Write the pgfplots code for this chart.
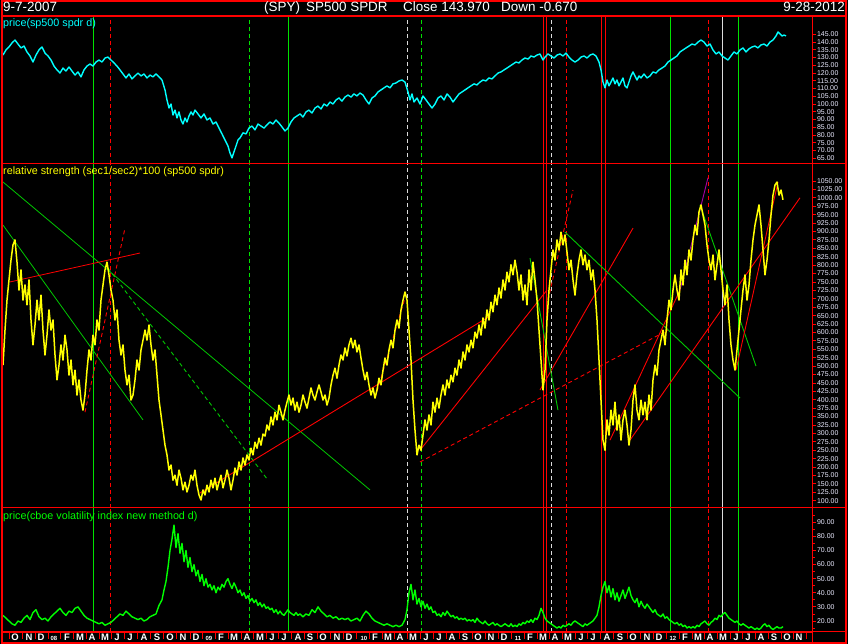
\documentclass[border=0pt]{standalone}
\usepackage{fontspec}
\setmainfont{Liberation Sans}
\usepackage{pgfplots}
\pgfplotsset{compat=1.18}
\definecolor{cy}{RGB}{0,255,255}
\definecolor{yl}{RGB}{255,255,0}
\definecolor{gr}{RGB}{0,255,0}
\definecolor{tg}{RGB}{0,200,0}
\definecolor{vgc}{RGB}{0,225,0}
\definecolor{rd}{RGB}{255,0,0}
\definecolor{lab}{RGB}{235,235,255}
\definecolor{wt}{RGB}{220,220,220}

\pgfplotsset{
  panel/.style={
    anchor=south west, scale only axis, width=810bp,
    xmin=2, xmax=812, clip=true,
    axis background/.style={fill=black},
    axis line style={rd, line width=1bp},
    xtick=\empty,
    ytick pos=right, yticklabel pos=right,
    tick align=outside, major tick length=4bp, minor tick length=2.5bp,
    tick style={rd, line width=0.8bp},
    yticklabel style={font=\fontsize{7}{8}\selectfont, text=lab, inner sep=0.6bp, xshift=0.3bp,
      /pgf/number format/.cd, fixed, fixed zerofill, precision=2, 1000 sep={}, assume math mode=true},
  },
  vg/.style={vgc, line width=0.9bp},
  vgd/.style={vgc, line width=0.9bp, dash pattern=on 4bp off 3bp},
  vr/.style={rd, line width=0.9bp},
  vrd/.style={rd, line width=0.9bp, dash pattern=on 4bp off 3bp},
  vwd/.style={wt, line width=0.8bp, dash pattern=on 4bp off 3bp},
  vw/.style={wt, line width=0.7bp},
}
\newcommand{\VL}[2]{%
  \addplot[vg]  coordinates {(93,#1) (93,#2)};
  \addplot[vrd] coordinates {(110,#1) (110,#2)};
  \addplot[vgd] coordinates {(249,#1) (249,#2)};
  \addplot[vg]  coordinates {(288,#1) (288,#2)};
  \addplot[vwd] coordinates {(407,#1) (407,#2)};
  \addplot[vgd] coordinates {(421,#1) (421,#2)};
  \addplot[vr]  coordinates {(543,#1) (543,#2)};
  \addplot[vr]  coordinates {(546,#1) (546,#2)};
  \addplot[vwd] coordinates {(551,#1) (551,#2)};
  \addplot[vrd] coordinates {(566,#1) (566,#2)};
  \addplot[vr]  coordinates {(601,#1) (601,#2)};
  \addplot[vr]  coordinates {(605,#1) (605,#2)};
  \addplot[vg]  coordinates {(670,#1) (670,#2)};
  \addplot[vrd] coordinates {(708,#1) (708,#2)};
  \addplot[vw]  coordinates {(722,#1) (722,#2)};
  \addplot[vg]  coordinates {(738,#1) (738,#2)};
}

\pgfplotstableread{
x v
3 131.6
6 134.9
9 136.8
12 139.4
15 141.3
18 138.7
21 136.2
24 137.4
27 133.6
30 131.0
33 127.1
36 131.6
39 134.9
42 136.8
45 132.9
48 131.0
51 128.4
54 124.5
57 122.0
60 120.0
63 123.2
66 121.3
69 123.9
72 121.3
75 118.7
78 120.7
81 117.5
84 122.0
87 124.5
90 125.8
93 124.5
96 127.1
99 128.4
102 127.1
105 129.7
108 130.3
111 128.4
114 126.5
117 124.5
120 122.0
123 119.4
126 116.8
129 119.4
132 116.2
135 118.1
138 120.0
141 118.1
144 119.4
147 116.8
150 118.7
153 117.5
156 119.4
159 117.5
162 115.5
165 109.1
167 102.6
169 97.4
171 100.0
173 92.9
175 96.1
177 91.0
179 94.9
181 89.7
183 87.1
185 91.0
187 88.4
189 92.3
191 94.9
193 92.9
195 96.1
198 93.6
201 91.0
204 93.6
207 89.7
210 91.0
213 87.1
216 88.4
219 84.5
222 80.7
225 76.8
228 72.9
230 68.4
232 65.2
234 69.1
236 72.9
238 76.8
240 78.1
243 81.4
246 80.7
249 84.5
252 85.8
255 83.3
258 87.1
261 85.8
264 84.5
267 86.5
270 88.4
273 87.1
276 89.7
279 87.7
282 85.2
285 82.6
288 84.5
291 88.4
294 91.0
297 92.3
300 93.6
303 91.6
306 94.9
309 96.1
312 94.2
315 97.4
318 98.7
321 96.8
324 100.0
327 98.7
330 101.3
333 100.0
336 102.6
339 103.9
342 101.9
345 104.5
348 105.8
351 104.5
354 106.5
357 105.2
360 107.1
363 105.8
366 102.6
369 100.0
372 103.9
375 105.2
378 107.8
381 109.1
384 110.4
387 111.7
390 110.4
393 113.0
396 113.6
399 114.9
402 115.5
405 114.2
408 107.8
410 102.6
412 106.5
414 101.3
417 103.9
420 100.0
423 105.2
426 102.6
429 100.0
432 97.4
435 100.0
438 103.9
441 105.2
444 102.6
447 106.5
450 104.5
453 101.3
456 103.9
459 106.5
462 107.8
465 109.1
468 110.4
471 111.7
474 113.0
477 112.3
480 114.2
483 115.5
486 114.9
489 116.8
492 116.2
495 118.1
498 120.0
501 120.7
504 122.0
507 123.2
510 124.5
513 125.8
516 127.1
519 126.5
522 128.4
525 129.7
528 129.0
531 131.0
534 130.3
537 131.6
540 132.3
543 128.4
545 130.3
548 132.3
551 131.0
554 129.7
557 131.6
560 132.3
563 131.0
566 132.9
569 130.3
572 128.4
575 127.1
578 128.4
581 130.3
584 131.0
587 129.7
590 131.6
593 132.3
596 131.0
599 127.1
601 122.0
603 114.2
605 110.4
607 115.5
609 111.7
611 114.2
613 116.8
615 113.0
617 115.5
619 111.7
621 114.2
623 116.8
625 111.7
627 110.4
629 114.2
631 118.1
633 120.7
635 118.1
637 115.5
639 118.1
641 116.8
644 119.4
647 116.8
650 118.1
653 120.7
656 120.0
659 122.0
662 123.2
665 124.5
668 127.1
671 128.4
674 129.7
677 131.0
680 133.6
683 134.9
686 136.2
689 137.4
692 138.7
695 138.1
698 140.0
701 141.3
704 140.0
707 137.4
710 138.7
713 134.9
716 132.3
719 133.6
722 131.0
725 129.7
728 128.4
731 131.0
734 133.6
737 132.3
740 134.9
743 136.2
746 133.6
749 135.6
752 136.8
755 137.4
758 136.2
761 138.1
764 138.7
767 137.4
770 140.0
773 141.3
776 143.9
778 146.5
780 145.2
782 143.9
784 144.5
786 143.97
}\price

\pgfplotstableread{
x v
3 503
5 607
7 696
9 756
11 815
13 860
15 875
17 809
19 726
21 786
23 696
25 741
27 682
29 756
31 637
33 563
35 622
37 696
39 637
41 711
43 607
45 533
47 592
49 667
51 607
53 637
55 533
57 459
59 503
61 563
63 518
65 592
67 548
69 473
71 518
73 444
75 488
77 414
79 459
81 399
83 369
85 414
87 488
89 548
91 518
93 592
95 563
97 637
99 607
101 696
103 741
105 786
107 809
109 771
111 726
113 696
115 637
117 667
119 577
121 533
123 563
125 488
127 444
129 473
131 399
133 414
135 459
137 518
139 488
141 548
143 577
145 607
147 577
149 622
151 563
153 518
155 548
157 473
159 399
161 355
163 310
165 265
167 236
169 191
171 206
173 161
175 176
177 146
179 191
181 167
183 132
185 155
187 126
189 146
191 176
193 161
195 191
197 146
199 117
201 102
203 132
205 117
207 146
209 126
211 161
213 138
215 167
217 132
219 155
221 176
223 138
225 161
227 191
229 167
231 132
233 161
235 197
237 176
239 215
241 191
243 227
245 206
247 236
249 221
251 256
253 236
255 274
257 256
259 286
261 265
263 298
265 292
267 325
269 310
271 349
273 325
275 363
277 340
279 384
281 363
283 340
285 369
287 393
289 414
291 384
293 405
295 369
297 393
299 363
301 384
303 414
305 393
307 375
309 405
311 435
313 414
315 399
317 423
319 444
321 423
323 399
325 414
327 384
329 405
331 444
333 473
335 494
337 464
339 503
341 533
343 518
345 554
347 530
349 563
351 583
353 554
355 577
357 542
359 563
361 524
363 488
365 459
367 482
369 444
371 414
373 435
375 405
377 429
379 464
381 444
383 488
385 524
387 503
389 548
391 577
393 554
395 607
397 637
399 613
401 667
403 696
405 720
407 696
409 607
411 518
413 399
415 310
417 236
419 265
421 250
423 295
425 340
427 310
429 355
431 325
433 393
435 363
437 405
439 375
441 414
443 444
445 414
447 459
449 435
451 473
453 453
455 494
457 473
459 518
461 494
463 542
465 518
467 563
469 542
471 577
473 554
475 601
477 583
479 622
481 592
483 643
485 613
487 667
489 637
491 690
493 661
495 711
497 682
499 732
501 702
503 756
505 726
507 779
509 750
511 801
513 771
515 815
517 779
519 726
521 771
523 696
525 741
527 682
529 786
531 726
533 809
535 756
537 696
539 607
541 518
543 429
545 488
547 637
549 726
551 786
553 845
555 815
557 875
559 845
561 898
563 860
565 890
567 839
569 786
571 815
573 756
575 711
577 771
579 815
581 845
583 801
585 830
587 786
589 815
591 756
593 786
595 726
597 637
599 518
601 399
603 280
605 250
607 340
609 295
611 369
613 325
615 393
617 310
619 355
621 280
623 340
625 369
627 325
629 265
631 310
633 399
635 444
637 369
639 340
641 399
643 355
645 393
647 340
649 414
651 369
653 459
655 503
657 473
659 548
661 577
663 607
665 563
667 637
669 696
671 667
673 726
675 771
677 726
679 696
681 786
683 741
685 815
687 771
689 845
691 815
693 875
695 919
697 890
699 958
701 979
703 949
705 919
707 860
709 815
711 786
713 830
715 756
717 801
719 845
721 786
723 726
725 682
727 741
729 637
731 563
733 518
735 488
737 548
739 607
741 667
743 726
745 771
747 696
749 741
751 815
753 875
755 919
757 949
759 979
761 919
763 845
765 771
767 815
769 875
771 949
773 1008
775 1038
777 1047
779 1008
781 1023
783 994
}\rs

\pgfplotstableread{
x v
3 24
6 22
9 20
12 18
15 17
18 20
21 19
24 22
27 24
30 21
33 26
36 28
39 23
42 21
45 22
48 20
51 23
54 25
57 27
60 29
63 26
66 24
69 27
72 26
75 29
78 30
81 27
84 24
87 22
90 21
93 20
96 19
99 18
102 19
105 17
108 18
111 19
114 21
117 23
120 25
123 24
126 27
129 25
132 23
135 22
138 21
141 22
144 20
147 21
150 23
153 24
156 25
159 31
162 35
164 42
166 48
168 58
170 70
172 78
174 88
176 72
178 82
180 68
182 75
184 62
186 70
188 58
190 65
192 55
194 60
196 52
198 56
200 48
202 53
204 45
206 50
208 44
210 46
212 42
214 45
216 40
218 44
220 42
222 46
224 44
226 48
228 50
230 46
232 43
234 47
236 44
238 40
240 42
242 38
244 40
246 36
248 38
250 34
252 36
254 33
256 35
258 31
260 33
262 30
264 32
266 29
268 30
270 28
272 29
274 26
276 28
278 25
280 27
282 25
284 24
286 26
288 28
290 26
292 25
294 24
296 26
298 24
300 25
303 23
306 25
309 24
312 28
315 26
318 30
321 27
324 25
327 23
330 24
333 22
336 23
339 21
342 22
345 21
348 22
351 20
354 21
357 22
360 20
363 24
366 27
369 25
372 22
375 20
378 19
381 18
384 17
387 18
390 17
393 16
396 17
399 16
402 17
405 21
407 28
409 40
411 46
413 35
415 42
417 32
419 36
421 30
423 34
425 29
427 32
429 28
431 30
433 26
435 27
437 24
439 25
441 23
443 26
445 24
447 27
449 25
451 23
453 24
455 22
457 23
459 21
461 22
463 21
465 22
467 20
469 21
471 20
473 21
475 19
477 22
479 20
481 19
483 18
485 20
487 18
489 17
491 18
493 19
495 17
497 18
499 17
501 16
503 17
505 18
507 17
509 16
511 18
513 16
515 17
517 16
519 18
521 17
523 19
525 18
527 20
529 19
531 21
533 19
535 22
537 21
539 24
541 29
543 26
545 22
547 20
549 19
551 18
553 17
555 16
557 15
559 16
561 15
563 17
565 16
567 17
569 18
571 17
573 19
575 20
577 19
579 18
581 17
583 16
585 18
587 17
589 18
591 19
593 20
595 22
597 24
599 30
601 38
603 44
605 48
607 40
609 45
611 37
613 43
615 35
617 40
619 34
621 38
623 42
625 36
627 40
629 44
631 38
633 35
635 33
637 36
639 30
641 34
643 31
645 29
647 32
649 30
651 28
653 26
655 28
657 25
659 24
661 23
663 25
665 22
667 23
669 21
671 20
673 19
675 18
677 19
679 17
681 18
683 16
685 17
687 15
689 16
691 15
693 16
695 15
697 17
699 16
701 18
703 19
705 20
707 18
709 17
711 19
713 20
715 22
717 21
719 24
721 23
723 25
725 26
727 24
729 22
731 21
733 20
735 19
737 20
739 18
741 17
743 18
745 17
747 16
749 15
751 16
753 15
755 14
757 15
759 14
761 15
763 17
765 18
767 16
769 17
771 15
773 14
775 15
777 16
779 15
781 15
783 16
}\vix

\begin{document}
\begin{tikzpicture}
\fill[black] (0bp,0bp) rectangle (848bp,644bp);
\useasboundingbox (0bp,0bp) rectangle (848bp,644bp);

% ---------- top panel: price ----------
\begin{axis}[panel, at={(2bp,480bp)}, height=148bp, ymin=61.3, ymax=156.8,
  ytick={65,70,...,145}]
\VL{61.3}{156.8}
\addplot[cy, line width=1.4bp, line join=round] table[x=x,y=v] {\price};
\end{axis}

% ---------- middle panel: relative strength ----------
\begin{axis}[panel, at={(2bp,136bp)}, height=344bp, ymin=78.3, ymax=1100.5,
  ytick={100,125,...,1050}]
\VL{78.3}{1100.5}
% trend lines
\addplot[tg, line width=0.8bp] coordinates {(3,1047) (370,132)};
\addplot[tg, line width=0.8bp] coordinates {(3,919) (143,340)};
\addplot[rd, line width=0.8bp] coordinates {(10,750) (140,836)};
\addplot[rd, line width=0.9bp, dash pattern=on 4bp off 3bp] coordinates {(85,363) (125,910)};
\addplot[tg, line width=0.9bp, dash pattern=on 4bp off 3bp] coordinates {(108,791) (268,161)};
\addplot[rd, line width=0.9bp] coordinates {(200,123) (490,649)};
\addplot[rd, line width=0.9bp, dash pattern=on 4bp off 3bp] coordinates {(375,405) (405,702)};
\addplot[rd, line width=0.9bp] coordinates {(420,250) (547,726)};
\addplot[rd, line width=0.9bp, dash pattern=on 4bp off 3bp] coordinates {(420,215) (668,607)};
\addplot[rd, line width=0.9bp] coordinates {(540,429) (633,910)};
\addplot[rd, line width=0.9bp, dash pattern=on 4bp off 3bp] coordinates {(548,696) (573,1023)};
\addplot[tg, line width=0.9bp] coordinates {(565,898) (740,405)};
\addplot[tg, line width=0.9bp] coordinates {(530,821) (558,369)};
\addplot[tg, line width=0.9bp] coordinates {(700,979) (756,500)};
\addplot[rd, line width=0.9bp] coordinates {(610,280) (680,726)};
\addplot[rd, line width=0.9bp] coordinates {(630,280) (800,1000)};
\addplot[violet!70!magenta, line width=0.9bp] coordinates {(680,726) (708,1060)};
\addplot[rd, line width=0.9bp] coordinates {(736,488) (778,1047)};
\addplot[yl, line width=1.5bp, line join=round] table[x=x,y=v] {\rs};
\end{axis}

% ---------- bottom panel: VIX ----------
\begin{axis}[panel, at={(2bp,12bp)}, height=124bp, ymin=12.2, ymax=100.1,
  ytick={20,30,...,90}, minor ytick={15,25,...,95}]
\VL{12.2}{100.1}
\addplot[gr, line width=1.4bp, line join=round] table[x=x,y=v] {\vix};
\end{axis}

% ---------- frames and texts ----------
\begin{scope}[x=1bp,y=1bp]
\draw[rd, line width=1.2bp] (2,1) rectangle (846,643);
\draw[rd, line width=1.2bp] (2,628) -- (846,628);
\draw[rd, line width=1bp] (2,480) -- (846,480);
\draw[rd, line width=1bp] (2,136) -- (846,136);
\draw[rd, line width=1bp] (2,12) -- (846,12);
\draw[rd, line width=1bp] (812,1) -- (812,628);

\node[anchor=base west, text=white, font=\fontsize{13.5}{14}\selectfont, inner sep=0] at (3,632) {9-7-2007};
\node[anchor=base west, text=white, font=\fontsize{13.5}{14}\selectfont, inner sep=0] at (264,632) {(SPY)};
\node[anchor=base west, text=white, font=\fontsize{13.5}{14}\selectfont, inner sep=0] at (306,632) {SP500 SPDR};
\node[anchor=base west, text=white, font=\fontsize{13.5}{14}\selectfont, inner sep=0] at (403,632) {Close 143.970};
\node[anchor=base west, text=white, font=\fontsize{13.5}{14}\selectfont, inner sep=0] at (501,632) {Down -0.670};
\node[anchor=base east, text=white, font=\fontsize{13.5}{14}\selectfont, inner sep=0] at (845,632) {9-28-2012};

\node[anchor=base west, text=cy, font=\fontsize{10.8}{12}\selectfont, inner sep=0] at (3,617) {price(sp500 spdr d)};
\node[anchor=base west, text=yl, font=\fontsize{10.8}{12}\selectfont, inner sep=0] at (3,469) {relative strength (sec1/sec2)*100 (sp500 spdr)};
\node[anchor=base west, text=gr, font=\fontsize{10.8}{12}\selectfont, inner sep=0] at (3,125) {price(cboe volatility index new method d)};

% month strip
\foreach \x/\l in {15/O,29/N,41/D,67/F,80/M,92/A,105/M,117/J,130/J,144/A,157/S,170/O,183/N,196/D,221/F,234/M,247/A,260/M,272/J,284/J,298/A,310/S,323/O,337/N,349/D,375/F,388/M,400/A,413/M,426/J,439/J,452/A,465/S,478/O,491/N,504/D,530/F,543/M,555/A,568/M,581/J,593/J,607/A,620/S,633/O,647/N,659/D,685/F,698/M,710/A,723/M,736/J,748/J,761/A,774/S,787/O,799/N}
  {\node[text=white, font=\bfseries\fontsize{9.5}{10}\selectfont, inner sep=0] at (\x,6.3) {\l};}
\foreach \x/\l in {54/08,209/09,364/10,518/11,673/12}
  {\node[text=white, font=\bfseries\fontsize{6}{7}\selectfont, inner sep=0] at (\x,6) {\l};}
\foreach \x in {9,22,35,48,60,73,86,99,111,124,137,150,163,176,190,202,215,228,241,253,266,278,291,304,317,330,343,356,369,382,394,407,420,433,446,459,472,485,498,511,524,537,549,562,575,587,600,613,627,640,653,666,679,692,704,717,730,742,755,768,781,793,806}
  {\draw[rd, line width=0.8bp] (\x,12) -- (\x,5);}
\end{scope}
\end{tikzpicture}
\end{document}
